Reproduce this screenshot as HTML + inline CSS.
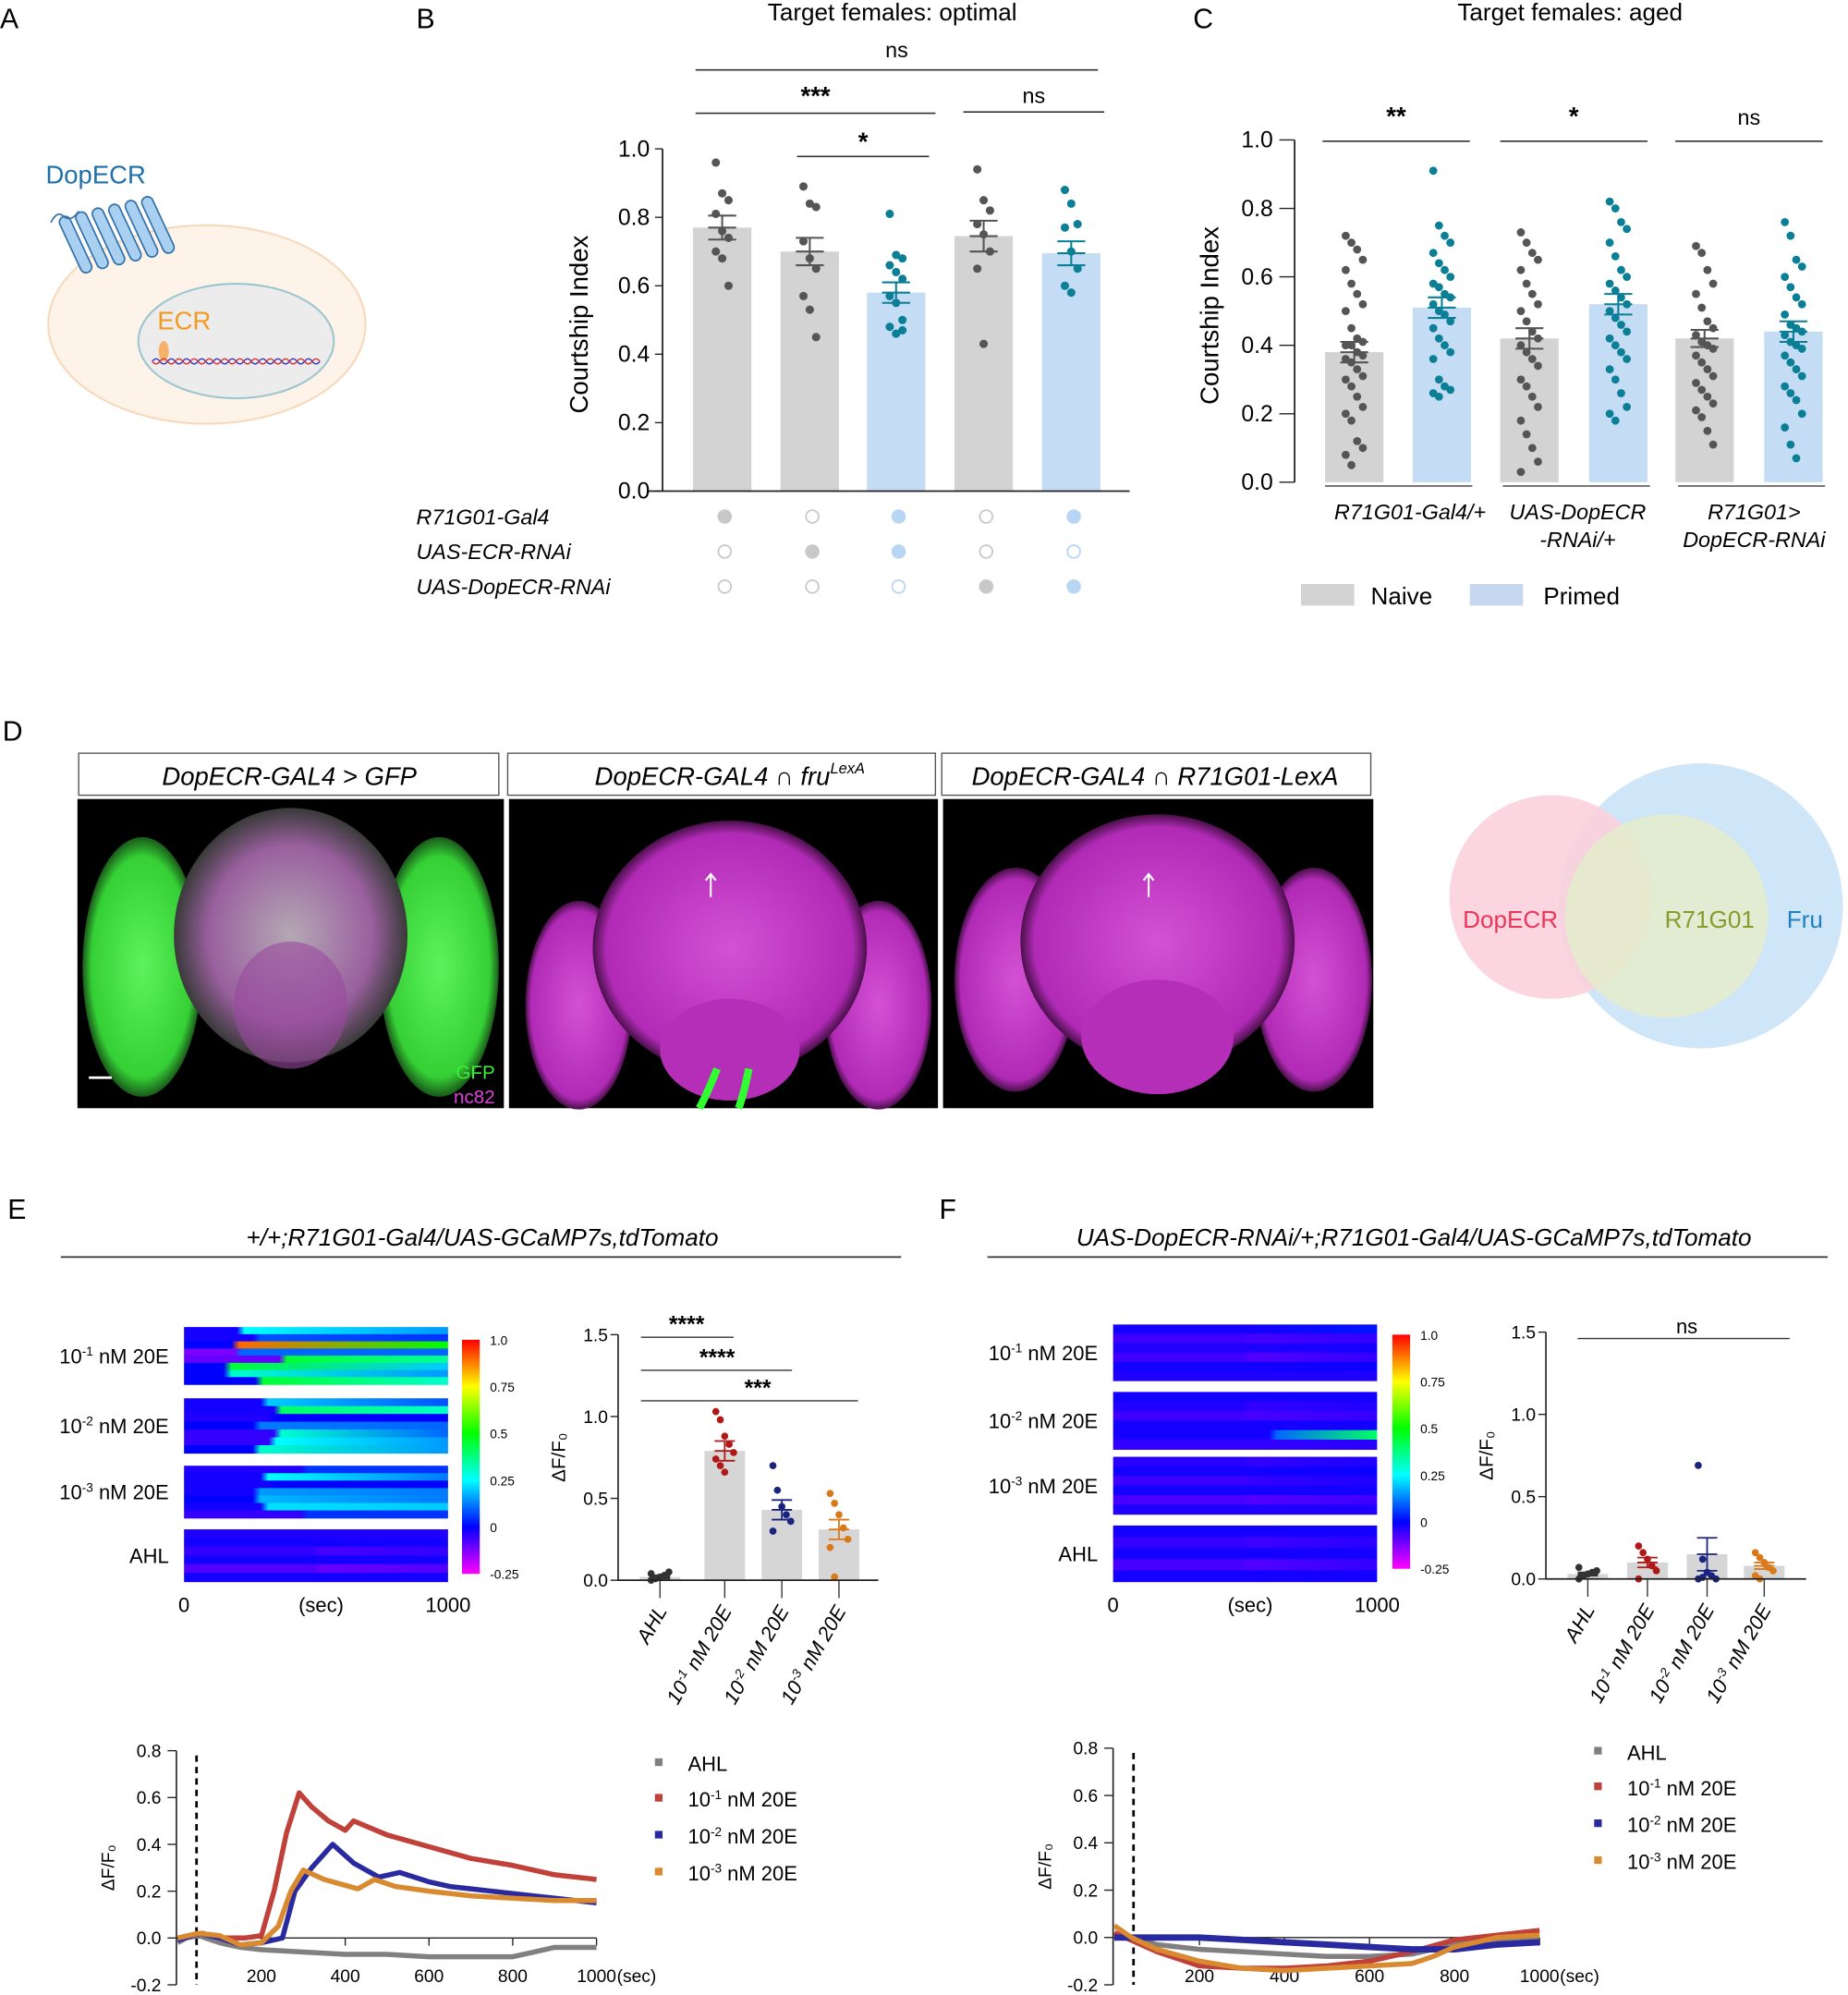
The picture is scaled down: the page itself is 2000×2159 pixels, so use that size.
<!DOCTYPE html>
<html><head><meta charset="utf-8"><style>
html,body{margin:0;padding:0;background:#fff}
svg{display:block}
text{font-family:"Liberation Sans",Arial,sans-serif}
.it{font-style:italic}
</style></head><body>
<svg id="fig" width="2000" height="2159" viewBox="0 0 1456 1568" preserveAspectRatio="none" xmlns="http://www.w3.org/2000/svg">
<defs>
<radialGradient id="gGreen"><stop offset="0" stop-color="#5df25d"/><stop offset="0.85" stop-color="#35d035"/><stop offset="1" stop-color="#1a5a1a"/></radialGradient>
<radialGradient id="gMag"><stop offset="0" stop-color="#d451d4"/><stop offset="0.9" stop-color="#b02ab5"/><stop offset="1" stop-color="#4a104a"/></radialGradient>
<radialGradient id="gMix"><stop offset="0" stop-color="#b4a8b4"/><stop offset="0.7" stop-color="#9a609f"/><stop offset="1" stop-color="#3a3a3a"/></radialGradient>
<linearGradient id="cbar" x1="0" y1="1" x2="0" y2="0">
<stop offset="0" stop-color="#ff00ff"/><stop offset="0.2" stop-color="#0000ff"/><stop offset="0.4" stop-color="#00ffff"/><stop offset="0.6" stop-color="#00ff00"/><stop offset="0.8" stop-color="#ffff00"/><stop offset="1" stop-color="#ff0000"/></linearGradient>
</defs>

<g>
<text x="0" y="22" font-size="22">A</text>
<ellipse cx="163" cy="255" rx="125" ry="78" fill="#fdf3e8" stroke="#f8d8b8" stroke-width="1.5"/>
<ellipse cx="186" cy="268" rx="77" ry="45" fill="#ececec" stroke="#9cc5cf" stroke-width="1.5"/>
<text x="36" y="144" font-size="20" fill="#1f6fa8">DopECR</text>
<g fill="#a9d0f0" stroke="#2f6fa8" stroke-width="1.2">
<rect x="55" y="168" width="9" height="48" rx="4.5" transform="rotate(-25 60 192)"/>
<rect x="68" y="165" width="9" height="48" rx="4.5" transform="rotate(-25 72 189)"/>
<rect x="81" y="162" width="9" height="48" rx="4.5" transform="rotate(-25 85 186)"/>
<rect x="94" y="159" width="9" height="48" rx="4.5" transform="rotate(-25 98 183)"/>
<rect x="107" y="156" width="9" height="48" rx="4.5" transform="rotate(-25 111 180)"/>
<rect x="120" y="153" width="9" height="48" rx="4.5" transform="rotate(-25 124 177)"/>
<path d="M40 175 q5 -10 10 -5 q6 5 12 -4" fill="none"/>
</g>
<text x="124" y="259" font-size="20" fill="#f39a1e">ECR</text>
<ellipse cx="129" cy="276" rx="4" ry="8" fill="#f6b26b"/>
<path d="M120 284 q3 -4 6 0 t6 0 t6 0 t6 0 t6 0 t6 0 t6 0 t6 0 t6 0 t6 0 t6 0 t6 0 t6 0 t6 0 t6 0 t6 0 t6 0 t6 0 t6 0 t6 0 t6 0 t6 0" fill="none" stroke="#3030c0" stroke-width="1"/>
<path d="M120 284 q3 4 6 0 t6 0 t6 0 t6 0 t6 0 t6 0 t6 0 t6 0 t6 0 t6 0 t6 0 t6 0 t6 0 t6 0 t6 0 t6 0 t6 0 t6 0 t6 0 t6 0 t6 0 t6 0" fill="none" stroke="#d03030" stroke-width="1"/>
</g>

<g id="pB"></g>
<g id="pC"></g>

<g>
<text x="2" y="582" font-size="22">D</text>
<rect x="62" y="592" width="331" height="33" fill="#fff" stroke="#555"/>
<text x="228" y="617" font-size="20" text-anchor="middle" class="it">DopECR-GAL4 &gt; GFP</text>
<rect x="400" y="592" width="337" height="33" fill="#fff" stroke="#555"/>
<text x="575" y="617" font-size="20" text-anchor="middle" class="it">DopECR-GAL4 ∩ fru<tspan font-size="12" dy="-9">LexA</tspan></text>
<rect x="742" y="592" width="338" height="33" fill="#fff" stroke="#555"/>
<text x="910" y="617" font-size="20" text-anchor="middle" class="it">DopECR-GAL4 ∩ R71G01-LexA</text>
<g>
<rect x="61" y="628" width="336" height="243" fill="#000"/>
<ellipse cx="112" cy="760" rx="47" ry="102" fill="url(#gGreen)"/>
<ellipse cx="346" cy="760" rx="47" ry="102" fill="url(#gGreen)"/>
<ellipse cx="229" cy="735" rx="92" ry="100" fill="url(#gMix)"/>
<ellipse cx="229" cy="790" rx="45" ry="50" fill="#9a4a9f" opacity="0.6"/>
<rect x="70" y="846" width="18" height="2" fill="#fff"/>
<text x="390" y="848" font-size="15" fill="#3cf03c" text-anchor="end">GFP</text>
<text x="390" y="867" font-size="15" fill="#e040e0" text-anchor="end">nc82</text>
</g>
<g>
<rect x="401" y="628" width="338" height="243" fill="#000"/>
<ellipse cx="456" cy="790" rx="42" ry="82" fill="url(#gMag)"/>
<ellipse cx="692" cy="790" rx="42" ry="82" fill="url(#gMag)"/>
<ellipse cx="575" cy="745" rx="108" ry="100" fill="url(#gMag)"/>
<ellipse cx="575" cy="825" rx="55" ry="40" fill="#b52eb8"/>
<path d="M565 840 q-8 20 -14 31 M590 840 q-4 20 -8 31" stroke="#30ff30" stroke-width="6"/>
<path d="M560 705 v-18 m-4 5 l4 -5 l4 5" stroke="#fff" fill="none" stroke-width="1.5"/>
</g>
<g>
<rect x="743" y="628" width="339" height="243" fill="#000"/>
<ellipse cx="800" cy="770" rx="48" ry="88" fill="url(#gMag)"/>
<ellipse cx="1035" cy="770" rx="46" ry="88" fill="url(#gMag)"/>
<ellipse cx="912" cy="740" rx="108" ry="100" fill="url(#gMag)"/>
<ellipse cx="912" cy="815" rx="60" ry="45" fill="#b52eb8"/>
<path d="M905 705 v-18 m-4 5 l4 -5 l4 5" stroke="#fff" fill="none" stroke-width="1.5"/>
</g>
<g>
<circle cx="1340" cy="712" r="112" fill="#cfe6f8"/>
<circle cx="1222" cy="705" r="80" fill="#fbd0dc" opacity="0.9"/>
<circle cx="1313" cy="720" r="80" fill="#e4eccd" opacity="0.85"/>
<text x="1190" y="729" font-size="19" fill="#e8375a" text-anchor="middle">DopECR</text>
<text x="1347" y="729" font-size="19" fill="#8b9a2c" text-anchor="middle">R71G01</text>
<text x="1422" y="729" font-size="19" fill="#1f7fbf" text-anchor="middle">Fru</text>
</g>
</g>

<g id="pE"></g>
<g id="pF"></g>
</svg>

<script>
const bCategories = ['g1','g2','g3','g4','g5'];
const bMeans = [0.77, 0.70, 0.58, 0.745, 0.695];
const bSem = [0.035, 0.04, 0.03, 0.045, 0.035];
const bPoints1 = [0.96,0.87,0.85,0.81,0.76,0.74,0.70,0.68,0.60];
const bPoints2 = [0.89,0.84,0.83,0.73,0.68,0.65,0.57,0.53,0.45];
const bPoints3 = [0.81,0.69,0.68,0.66,0.64,0.62,0.57,0.55,0.50,0.48,0.46,0.47];
const bPoints4 = [0.94,0.85,0.82,0.78,0.75,0.70,0.65,0.43];
const bPoints5 = [0.88,0.84,0.78,0.77,0.70,0.65,0.60,0.58];
const bTicks = [0.0,0.2,0.4,0.6,0.8,1.0];
const bGenoRows = ['R71G01-Gal4','UAS-ECR-RNAi','UAS-DopECR-RNAi'];
const bGeno = [[1,0,1,0,1],[0,1,1,0,0],[0,0,0,1,1]];

const cCategories = ['n1','p1','n2','p2','n3','p3'];
const cMeans = [0.38,0.51,0.42,0.52,0.42,0.44];
const cSem = [0.03,0.03,0.03,0.03,0.025,0.03];
const cPoints1 = [0.72,0.70,0.68,0.65,0.62,0.58,0.55,0.52,0.50,0.45,0.42,0.41,0.40,0.40,0.38,0.37,0.36,0.35,0.33,0.31,0.30,0.28,0.25,0.22,0.20,0.18,0.12,0.10,0.08,0.05];
const cPoints2 = [0.91,0.75,0.72,0.70,0.67,0.64,0.62,0.60,0.58,0.57,0.55,0.54,0.52,0.50,0.49,0.47,0.45,0.42,0.40,0.38,0.36,0.30,0.28,0.27,0.26,0.25];
const cPoints3 = [0.73,0.70,0.67,0.65,0.62,0.58,0.55,0.52,0.50,0.47,0.44,0.42,0.40,0.38,0.36,0.34,0.30,0.28,0.25,0.22,0.18,0.14,0.10,0.06,0.03];
const cPoints4 = [0.82,0.80,0.76,0.74,0.70,0.66,0.62,0.60,0.58,0.56,0.54,0.52,0.50,0.48,0.46,0.44,0.42,0.40,0.38,0.36,0.33,0.30,0.26,0.22,0.20,0.18];
const cPoints5 = [0.69,0.67,0.62,0.58,0.55,0.51,0.47,0.45,0.43,0.41,0.40,0.39,0.37,0.35,0.33,0.31,0.29,0.27,0.25,0.23,0.21,0.19,0.15,0.11];
const cPoints6 = [0.76,0.72,0.65,0.63,0.60,0.57,0.54,0.52,0.49,0.46,0.45,0.44,0.43,0.41,0.40,0.39,0.37,0.35,0.33,0.31,0.28,0.26,0.24,0.20,0.16,0.11,0.07];
const cTicks = [0.0,0.2,0.4,0.6,0.8,1.0];

const eCatExp = ['', '-1', '-2', '-3'];
const eMeans = [0.02,0.79,0.43,0.31];
const eSem = [0.01,0.06,0.06,0.06];
const ePts1 = [0.0,0.01,0.02,0.03,0.05,0.04,0.01];
const ePts2 = [1.03,0.98,0.88,0.83,0.78,0.74,0.70,0.66];
const ePts3 = [0.70,0.55,0.45,0.40,0.36,0.30];
const ePts4 = [0.53,0.47,0.40,0.32,0.25,0.20,0.02];
const fMeans = [0.03,0.10,0.15,0.08];
const fSem = [0.01,0.03,0.10,0.02];
const fPts1 = [0.0,0.02,0.03,0.04,0.05,0.07,0.02];
const fPts2 = [0.20,0.16,0.12,0.08,0.05,0.0];
const fPts3 = [0.69,0.12,0.04,0.02,0.0,0.0,0.01];
const fPts4 = [0.16,0.13,0.10,0.07,0.05,0.02,0.0];
const efTicks = [0.0,0.5,1.0,1.5];

const eT_AHL = [0,20,50,100,150,200,300,400,500,600,700,800,850,900,1000];
const eV_AHL = [-0.02,0.0,0.01,-0.02,-0.04,-0.05,-0.06,-0.07,-0.07,-0.08,-0.08,-0.08,-0.06,-0.04,-0.04];
const eT_1 = [0,30,60,100,130,160,200,230,260,290,320,360,400,420,500,600,700,800,900,1000];
const eV_1 = [0.0,0.01,0.02,0.0,0.0,0.0,0.01,0.2,0.45,0.62,0.56,0.5,0.46,0.5,0.44,0.39,0.34,0.31,0.27,0.25];
const eT_2 = [0,50,100,150,200,250,280,320,370,420,480,530,600,650,700,800,900,1000];
const eV_2 = [-0.01,0.02,0.0,-0.03,-0.02,0.0,0.2,0.3,0.4,0.32,0.26,0.28,0.24,0.22,0.21,0.19,0.17,0.15];
const eT_3 = [0,50,100,150,200,240,270,300,350,430,470,520,600,700,800,900,1000];
const eV_3 = [0.0,0.02,0.01,-0.03,-0.02,0.05,0.2,0.29,0.25,0.21,0.25,0.22,0.2,0.18,0.17,0.16,0.16];
const fT_AHL = [0,50,100,200,300,400,500,600,700,800,900,1000];
const fV_AHL = [0.0,0.0,-0.03,-0.05,-0.06,-0.07,-0.08,-0.08,-0.07,-0.03,-0.01,-0.01];
const fT_1 = [0,50,100,200,300,400,500,600,700,800,900,1000];
const fV_1 = [0.02,-0.02,-0.06,-0.12,-0.13,-0.13,-0.12,-0.1,-0.06,-0.01,0.01,0.03];
const fT_2 = [0,100,200,300,400,500,600,700,800,900,1000];
const fV_2 = [0.0,0.0,0.0,-0.01,-0.02,-0.03,-0.04,-0.05,-0.05,-0.03,-0.02];
const fT_3 = [0,40,100,200,300,400,500,600,700,750,800,900,1000];
const fV_3 = [0.05,0.0,-0.05,-0.1,-0.13,-0.14,-0.13,-0.12,-0.11,-0.08,-0.04,0.0,0.01];

const eHm1 = [[0.21,-0.02,0.25,0.15],[0.27,-0.02,0.08,0.05],[0.19,0.0,0.9,0.5],[0.2,-0.12,0.1,0.1],[0.37,-0.1,0.45,0.35],[0.16,0.0,0.45,0.2],[0.16,0.0,0.3,0.15],[0.28,0.0,0.45,0.3]];
const eHm2 = [[0.3,-0.02,0.2,0.08],[0.35,-0.02,0.4,0.3],[0.33,-0.03,0.0,0.0],[0.27,0.0,0.12,0.1],[0.35,-0.05,0.3,0.1],[0.33,-0.05,0.25,0.15],[0.27,0.0,0.3,0.15]];
const eHm3 = [[0.45,-0.03,0.05,0.05],[0.3,-0.02,0.25,0.12],[0.33,-0.02,0.0,0.0],[0.27,-0.02,0.15,0.12],[0.27,0.0,0.18,0.12],[0.3,-0.02,0.22,0.2],[0.45,-0.05,0.05,0.05]];
const eHm4 = [[0.5,-0.03,-0.03,-0.03],[0.5,-0.02,-0.02,-0.02],[0.5,-0.05,-0.07,-0.05],[0.5,-0.02,-0.02,-0.02],[0.5,-0.08,-0.1,-0.08],[0.5,-0.02,-0.02,-0.02]];
const fHm1 = [[0.5,-0.02,-0.02,0.02],[0.5,-0.06,-0.07,-0.05],[0.5,-0.03,-0.03,-0.02],[0.5,-0.06,-0.08,-0.05],[0.5,-0.02,-0.02,-0.01],[0.5,-0.03,-0.03,-0.03]];
const fHm2 = [[0.5,-0.02,-0.02,-0.02],[0.5,-0.03,-0.05,-0.03],[0.5,-0.06,-0.07,-0.05],[0.5,-0.02,-0.02,-0.02],[0.6,-0.02,0.1,0.4],[0.5,-0.05,-0.05,-0.04]];
const fHm3 = [[0.5,-0.04,-0.05,-0.03],[0.5,-0.02,-0.02,-0.01],[0.5,-0.06,-0.05,-0.03],[0.5,-0.02,-0.02,-0.02],[0.5,-0.07,-0.08,-0.06],[0.5,-0.03,-0.03,-0.03]];
const fHm4 = [[0.5,-0.02,-0.02,-0.02],[0.5,-0.05,-0.06,-0.04],[0.5,-0.02,-0.02,-0.02],[0.5,-0.07,-0.08,-0.05],[0.5,-0.02,-0.02,-0.02]];

const NS='http://www.w3.org/2000/svg';
function mk(parent, tag, attrs, txt){
  const e=document.createElementNS(NS,tag);
  for(const k in attrs) e.setAttribute(k,attrs[k]);
  if(txt!==undefined) e.textContent=txt;
  parent.appendChild(e); return e;
}
function lin(d0,d1,r0,r1){return v=>r0+(v-d0)*(r1-r0)/(d1-d0);}
// concentration label with superscript exponent
function conc(parent, attrs, exp, size){
  const t=mk(parent,'text',attrs);
  if(!exp){t.textContent='AHL';return t;}
  t.appendChild(document.createTextNode('10'));
  const s=mk(t,'tspan',{'font-size':size*0.62,dy:-size*0.38},exp);
  mk(t,'tspan',{dy:size*0.38},' nM 20E');
  return t;
}

(function(){
  const g=document.getElementById('pB');
  const y=lin(0,1,386,117);
  const xs=[569,638,706,775,844];
  const colors=['#d3d3d3','#d3d3d3','#c5dcf5','#d3d3d3','#c5dcf5'];
  const dotc=['#555','#555','#0a7f96','#555','#0a7f96'];
  const pts=[bPoints1,bPoints2,bPoints3,bPoints4,bPoints5];
  const lbl=mk(g,'text',{x:328,y:22,'font-size':22},'B');
  
  
  const t=mk(g,'text',{x:703,y:16,'font-size':19,'text-anchor':'middle'},'Target females: optimal');
  
  
  bMeans.forEach((m,i)=>{
    const r=mk(g,'rect',{x:xs[i]-23,y:y(m),width:46,height:y(0)-y(m),fill:colors[i]});
    
    
    pts[i].forEach((v,j)=>{
      const c=mk(g,'circle',{cx:xs[i]+((j%3)-1)*5,cy:y(v),r:3.3,fill:dotc[i]});
      
      
    });
    const e=mk(g,'path',{d:`M${xs[i]} ${y(m+bSem[i])}V${y(m-bSem[i])}M${xs[i]-11} ${y(m+bSem[i])}h22M${xs[i]-11} ${y(m-bSem[i])}h22M${xs[i]-11} ${y(m)}h22`,stroke:dotc[i],'stroke-width':1.5,fill:'none'});
    
    
  });
  const ax=mk(g,'path',{d:`M522 ${y(1)}V${y(0)}M510 ${y(0)}H890`,stroke:'#222','stroke-width':1.3,fill:'none'});
  
  
  bTicks.forEach(v=>{
    mk(g,'path',{d:`M516 ${y(v)}h6`,stroke:'#222'});
    const tl=mk(g,'text',{x:512,y:y(v)+6,'font-size':18,'text-anchor':'end'},v.toFixed(1));
    
    
  });
  const yl=mk(g,'text',{transform:'translate(463 255) rotate(-90)','font-size':20,'text-anchor':'middle'},'Courtship Index');
  
  
  const sig=[[548,865,55,'ns',45],[548,737,89,'***',82],[759,870,88,'ns',81],[628,732,123,'*',118]];
  sig.forEach(s=>{
    mk(g,'path',{d:`M${s[0]} ${s[2]}H${s[1]}`,stroke:'#333','stroke-width':1.2});
    const st=mk(g,'text',{x:(s[0]+s[1])/2,y:s[4],'font-size':s[3]==='ns'?17:20,'text-anchor':'middle','font-weight':s[3]==='ns'?'normal':'bold'},s[3]);
    
    
  });
  bGenoRows.forEach((n,r)=>{
    const yy=406+r*27.5;
    const tl=mk(g,'text',{x:328,y:yy+6,'font-size':17,class:'it'},n);
    
    
    bGeno[r].forEach((f,i)=>{
      const col=colors[i]==='#d3d3d3'?'#c8c8c8':'#b8d5f3';
      const c=mk(g,'circle',{cx:xs[i]+2,cy:yy,r:5,fill:f?col:'#fff',stroke:col,'stroke-width':1.3});
      
      
    });
  });
})();

(function(){
  const g=document.getElementById('pC');
  const y=lin(0,1,379,110);
  const xs=[1067,1136,1205,1275,1343,1413];
  const pts=[cPoints1,cPoints2,cPoints3,cPoints4,cPoints5,cPoints6];
  const lbl=mk(g,'text',{x:940,y:22,'font-size':22},'C');
  
  
  const t=mk(g,'text',{x:1237,y:16,'font-size':19,'text-anchor':'middle'},'Target females: aged');
  
  
  cMeans.forEach((m,i)=>{
    const primed=i%2===1;
    const r=mk(g,'rect',{x:xs[i]-23,y:y(m),width:46,height:y(0)-y(m),fill:primed?'#c5dcf5':'#d3d3d3'});
    
    
    pts[i].forEach((v,j)=>{
      const c=mk(g,'circle',{cx:xs[i]+((j%4)-1.5)*4.5,cy:y(v),r:3.2,fill:primed?'#0a7f96':'#555'});
      
      
    });
    const ec=primed?'#0a7f96':'#555';
    const e=mk(g,'path',{d:`M${xs[i]} ${y(m+cSem[i])}V${y(m-cSem[i])}M${xs[i]-11} ${y(m+cSem[i])}h22M${xs[i]-11} ${y(m-cSem[i])}h22M${xs[i]-11} ${y(m)}h22`,stroke:ec,'stroke-width':1.5,fill:'none'});
    
    
  });
  const ax=mk(g,'path',{d:`M1020 ${y(1)}V${y(0)}`,stroke:'#222','stroke-width':1.3});
  
  
  cTicks.forEach(v=>{
    mk(g,'path',{d:`M1008 ${y(v)}h12`,stroke:'#222'});
    const tl=mk(g,'text',{x:1003,y:y(v)+6,'font-size':18,'text-anchor':'end'},v.toFixed(1));
    
    
  });
  const yl=mk(g,'text',{transform:'translate(960 248) rotate(-90)','font-size':20,'text-anchor':'middle'},'Courtship Index');
  
  
  [[1042,1158,'**'],[1182,1298,'*'],[1320,1436,'ns']].forEach(s=>{
    mk(g,'path',{d:`M${s[0]} 111H${s[1]}`,stroke:'#333','stroke-width':1.2});
    const st=mk(g,'text',{x:(s[0]+s[1])/2,y:98,'font-size':s[2]==='ns'?17:20,'text-anchor':'middle','font-weight':s[2]==='ns'?'normal':'bold'},s[2]);
    
    
  });
  [[1044,1160],[1184,1300],[1322,1438]].forEach(s=>mk(g,'path',{d:`M${s[0]} 382H${s[1]}`,stroke:'#777','stroke-width':1.5}));
  const labs=[[1111,408,'R71G01-Gal4/+'],[1243,408,'UAS-DopECR'],[1243,430,'-RNAi/+'],[1382,408,'R71G01>'],[1382,430,'DopECR-RNAi']];
  labs.forEach(l=>{
    const tl=mk(g,'text',{x:l[0],y:l[1],'font-size':17,'text-anchor':'middle',class:'it'},l[2]);
    
    
  });
  const l1=mk(g,'rect',{x:1025,y:459,width:42,height:17,fill:'#d3d3d3'});
  
  
  const l1t=mk(g,'text',{x:1080,y:475,'font-size':19},'Naive');
  
  
  const l2=mk(g,'rect',{x:1158,y:459,width:42,height:17,fill:'#c5d8f0'});
  
  
  const l2t=mk(g,'text',{x:1216,y:475,'font-size':19},'Primed');
  
  
})();

function cmap(v){
  const stops=[[-0.25,[255,0,255]],[0,[0,0,255]],[0.25,[0,255,255]],[0.5,[0,255,0]],[0.75,[255,255,0]],[1,[255,0,0]]];
  v=Math.max(-0.25,Math.min(1,v));
  for(let i=0;i<stops.length-1;i++){
    const a=stops[i],b=stops[i+1];
    if(v<=b[0]){const f=(v-a[0])/(b[0]-a[0]);return `rgb(${a[1].map((c,k)=>Math.round(c+(b[1][k]-c)*f)).join(',')})`;}
  }
  return 'rgb(255,0,0)';
}
let gradId=0;
function heatmap(g,x0,x1,y0,y1,rows,name){
  const defs=document.querySelector('defs');
  const h=(y1-y0)/rows.length;
  rows.forEach((r,i)=>{
    const id='hg'+(gradId++);
    const lg=mk(defs,'linearGradient',{id:id,x1:0,y1:0,x2:1,y2:0});
    mk(lg,'stop',{offset:0,'stop-color':cmap(r[1])});
    mk(lg,'stop',{offset:Math.max(0,r[0]-0.01),'stop-color':cmap(r[1])});
    mk(lg,'stop',{offset:r[0]+0.02,'stop-color':cmap(r[2])});
    mk(lg,'stop',{offset:1,'stop-color':cmap(r[3])});
    const rc=mk(g,'rect',{x:x0,y:y0+i*h,width:x1-x0,height:h+0.5,fill:`url(#${id})`});
    
    
  });
}

function panelEF(gid,o){
  const g=document.getElementById(gid);
  const lbl=mk(g,'text',{x:o.lx,y:958,'font-size':22},o.letter);
  
  
  const tt=mk(g,'text',{x:o.tx,y:979,'font-size':19,'text-anchor':'middle',class:'it'},o.title);
  
  
  mk(g,'path',{d:`M${o.tl0} 988H${o.tl1}`,stroke:'#333','stroke-width':1.3});
  const hmExp=['-1','-2','-3',''];
  o.hm.forEach((rows,i)=>{
    const b=o.hmY[i];
    heatmap(g,o.hx0,o.hx1,b[0],b[1],rows,'heatmap-'+i);
    const tl=conc(g,{x:o.hx0-12,y:(b[0]+b[1])/2+6,'font-size':16,'text-anchor':'end'},hmExp[i],16);
    
    
  });
  const cb=mk(g,'rect',{x:o.cbx,y:o.cby0,width:14,height:o.cby1-o.cby0,fill:'url(#cbar)'});
  
  
  ['1.0','0.75','0.5','0.25','0','-0.25'].forEach((s,i)=>{
    const tl=mk(g,'text',{x:o.cbx+22,y:o.cby0+i*(o.cby1-o.cby0)/5+4,'font-size':10},s);
    
    
  });
  [[o.hx0,'0'],[(o.hx0+o.hx1)/2+4,'(sec)'],[o.hx1,'1000']].forEach(a=>{
    const tl=mk(g,'text',{x:a[0],y:1267,'font-size':16,'text-anchor':'middle'},a[1]);
    
    
  });
  const y=lin(0,1.5,o.by0,o.by15);
  const cols=['#333','#b01818','#1a237e','#d9791a'];
  o.means.forEach((m,i)=>{
    const x=o.bxs[i];
    const r=mk(g,'rect',{x:x-16,y:y(m),width:32,height:y(0)-y(m),fill:'#d6d6d6'});
    
    
    o.pts[i].forEach((v,j)=>{
      const c=mk(g,'circle',{cx:x+((j%5)-2)*3.5,cy:y(v),r:2.8,fill:cols[i]});
      
      
    });
    const s=o.sem[i];
    mk(g,'path',{d:`M${x} ${y(m+s)}V${y(Math.max(0,m-s))}M${x-8} ${y(m+s)}h16M${x-8} ${y(Math.max(0,m-s))}h16M${x-8} ${y(m)}h16`,stroke:cols[i],'stroke-width':1.3,fill:'none'});
    mk(g,'path',{d:`M${x} ${y(0)}v14`,stroke:'#333'});
    const tl=conc(g,{transform:`translate(${x+6} ${y(0)+24}) rotate(-60)`,'font-size':16,'text-anchor':'end',class:'it'},eCatExp[i],16);
    
    
  });
  mk(g,'path',{d:`M${o.bax} ${y(1.5)}V${y(0)}H${o.bax+205}`,stroke:'#222','stroke-width':1.2,fill:'none'});
  efTicks.forEach(v=>{
    mk(g,'path',{d:`M${o.bax-6} ${y(v)}h6`,stroke:'#222'});
    const tl=mk(g,'text',{x:o.bax-8,y:y(v)+5,'font-size':14,'text-anchor':'end'},v.toFixed(1));
    
    
  });
  const yl=mk(g,'text',{transform:`translate(${o.bax-42} ${y(0.75)}) rotate(-90)`,'font-size':15,'text-anchor':'middle'},'ΔF/F₀');
  
  
  o.sig.forEach(s=>{
    mk(g,'path',{d:`M${s[0]} ${s[2]}H${s[1]}`,stroke:'#333','stroke-width':1});
    const st=mk(g,'text',{x:s[4],y:s[2]-4,'font-size':s[3]==='ns'?16:18,'text-anchor':'middle','font-weight':s[3]==='ns'?'normal':'bold'},s[3]);
    
    
  });
  const lx=lin(0,1000,o.lx0,o.lx1000), ly=lin(-0.2,0.8,1560,o.ly08);
  mk(g,'path',{d:`M${o.lx0-1} ${ly(0.8)}V1560`,stroke:'#222','stroke-width':1.2});
  mk(g,'path',{d:`M${o.lx0-1} ${ly(0)}H${lx(1000)}`,stroke:'#222','stroke-width':1});
  [-0.2,0,0.2,0.4,0.6,0.8].forEach(v=>{
    mk(g,'path',{d:`M${o.lx0-8} ${ly(v)}h7`,stroke:'#222'});
    const tl=mk(g,'text',{x:o.lx0-13,y:ly(v)+5,'font-size':14,'text-anchor':'end'},v.toFixed(1));
    
    
  });
  [200,400,600,800,1000].forEach(v=>{
    mk(g,'path',{d:`M${lx(v)} ${ly(0)}v6`,stroke:'#222'});
    const tl=mk(g,'text',{x:lx(v),y:1558,'font-size':14,'text-anchor':'middle'},String(v));
    
    
  });
  mk(g,'text',{x:lx(1000)+16,y:1558,'font-size':14},'(sec)');
  const yl2=mk(g,'text',{transform:`translate(${o.lx0-50} ${ly(0.3)}) rotate(-90)`,'font-size':14,'text-anchor':'middle'},'ΔF/F₀');
  
  
  mk(g,'path',{d:`M${lx(45)} ${ly(0.78)}V1560`,stroke:'#000','stroke-width':2,'stroke-dasharray':'5 4'});
  const lc=['#808080','#c0403a','#2a2aa0','#d98a30'];
  o.series.forEach((s,i)=>{
    const d=s[0].map((t,k)=>(k?'L':'M')+lx(t)+' '+ly(s[1][k])).join('');
    const p=mk(g,'path',{d:d,stroke:lc[i],'stroke-width':i===2&&o.letter==='F'?5:4,fill:'none','stroke-linejoin':'round'});
    
    
  });
  ['','-1','-2','-3'].forEach((s,i)=>{
    const yy=o.legY[i];
    mk(g,'rect',{x:o.legX-4,y:yy-4,width:6,height:6,fill:lc[i]});
    const tl=conc(g,{x:o.legX+22,y:yy+6,'font-size':16},s,16);
    
    
  });
}

panelEF('pE',{letter:'E',lx:6,tx:380,title:'+/+;R71G01-Gal4/UAS-GCaMP7s,tdTomato',tl0:48,tl1:710,
  hm:[eHm1,eHm2,eHm3,eHm4],hx0:145,hx1:353,hmY:[[1043,1088],[1099,1142],[1152,1193],[1202,1243]],
  cbx:364,cby0:1053,cby1:1237,by0:1242,by15:1049,bax:487,bxs:[520,571,616,661],
  means:eMeans,sem:eSem,pts:[ePts1,ePts2,ePts3,ePts4],
  sig:[[505,578,1051,'****',541],[505,624,1077,'****',565],[505,676,1101,'***',597]],
  lx0:140,lx1000:470,ly08:1376,
  series:[[eT_AHL,eV_AHL],[eT_1,eV_1],[eT_2,eV_2],[eT_3,eV_3]],legX:520,legY:[1386,1414,1443,1472]});
panelEF('pF',{letter:'F',lx:740,tx:1114,title:'UAS-DopECR-RNAi/+;R71G01-Gal4/UAS-GCaMP7s,tdTomato',tl0:778,tl1:1440,
  hm:[fHm1,fHm2,fHm3,fHm4],hx0:877,hx1:1085,hmY:[[1041,1085],[1094,1139],[1145,1190],[1199,1243]],
  cbx:1097,cby0:1049,cby1:1233,by0:1241,by15:1047,bax:1218,bxs:[1251,1298,1345,1390],
  means:fMeans,sem:fSem,pts:[fPts1,fPts2,fPts3,fPts4],
  sig:[[1243,1410,1052,'ns',1329]],
  lx0:878,lx1000:1213,ly08:1374,
  series:[[fT_AHL,fV_AHL],[fT_1,fV_1],[fT_2,fV_2],[fT_3,fV_3]],legX:1260,legY:[1377,1405,1434,1463]});
</script>
</body></html>
